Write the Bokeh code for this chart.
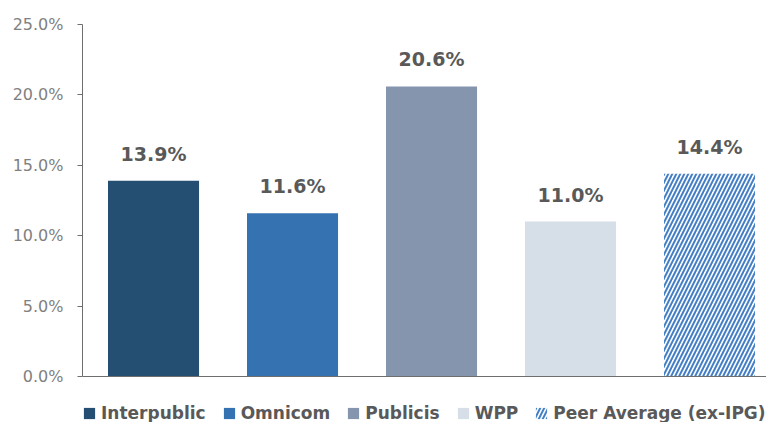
from bokeh.plotting import figure
from bokeh.models import ColumnDataSource, Range1d, Legend, LegendItem, LabelSet, FixedTicker, CustomJSTickFormatter, Span
from bokeh.core.properties import value
from bokeh.embed import file_html
from bokeh.resources import INLINE

companies = ["Interpublic", "Omnicom", "Publicis", "WPP", "Peer Average (ex-IPG)"]
values = [13.9, 11.6, 20.6, 11.0, 14.4]
colors = ["#254E73", "#3472B1", "#8495AD", "#D6DEE8", "#FFFFFF"]
hatches = [" ", " ", " ", " ", "/"]
y_ticks = [0, 5, 10, 15, 20, 25]

xs = list(range(len(companies)))
labels = [f"{v:.1f}%" for v in values]
src = ColumnDataSource(dict(x=xs, top=values, label=labels))

# frame: 0% at y=376 px, 25% at y=24 px, frame extends down to 422 to hold legend
px_per_unit = 352 / 25
y_min = -(422 - 376) / px_per_unit

p = figure(frame_width=684, frame_height=398, output_backend="svg", toolbar_location=None,
           x_range=Range1d(-0.511, 4.41), y_range=Range1d(y_min, 25))
p.min_border_left = 82
p.min_border_top = 24
p.min_border_right = 0
p.min_border_bottom = 0
p.outline_line_color = None
p.grid.visible = False
p.below = []

renderers = []
for i in xs:
    sub = ColumnDataSource(dict(x=[xs[i]], top=[values[i]]))
    r = p.vbar(x="x", top="top", bottom=0, width=0.655, source=sub,
               fill_color=colors[i], line_color=None,
               hatch_pattern=hatches[i], hatch_color="#4580C6",
               hatch_scale=8, hatch_weight=2)
    renderers.append(r)

p.add_layout(Span(location=0, dimension="width", line_color="#6E6E6E", line_width=1))

lbl = LabelSet(x="x", y="top", text="label", source=src, text_align="center",
               text_baseline="bottom", y_offset=16,
               text_font=value("DejaVu Sans"), text_font_style="bold",
               text_font_size="19px", text_color="#595959")
p.add_layout(lbl)

ya = p.yaxis[0]
ya.bounds = (0, 25)
ya.ticker = FixedTicker(ticks=y_ticks)
ya.formatter = CustomJSTickFormatter(code="return tick.toFixed(1) + '%';")
ya.major_label_text_font = "DejaVu Sans"
ya.major_label_text_font_size = "16px"
ya.major_label_text_color = "#808080"
ya.axis_line_color = "#6E6E6E"
ya.major_tick_line_color = "#6E6E6E"
ya.major_tick_out = 5
ya.major_tick_in = 0
ya.minor_tick_line_color = None
ya.major_label_standoff = 14

items = [LegendItem(label=companies[i], renderers=[renderers[i]]) for i in xs]
legend = Legend(items=items, orientation="horizontal", location=(0, -1),
                padding=0, margin=0, spacing=16, label_standoff=5,
                glyph_width=14, glyph_height=14,
                label_text_font="DejaVu Sans", label_text_font_style="bold",
                label_text_font_size="17px", label_text_color="#595959",
                border_line_color=None, background_fill_alpha=0)
p.add_layout(legend)

open("out.html", "w").write(file_html(p, INLINE))
